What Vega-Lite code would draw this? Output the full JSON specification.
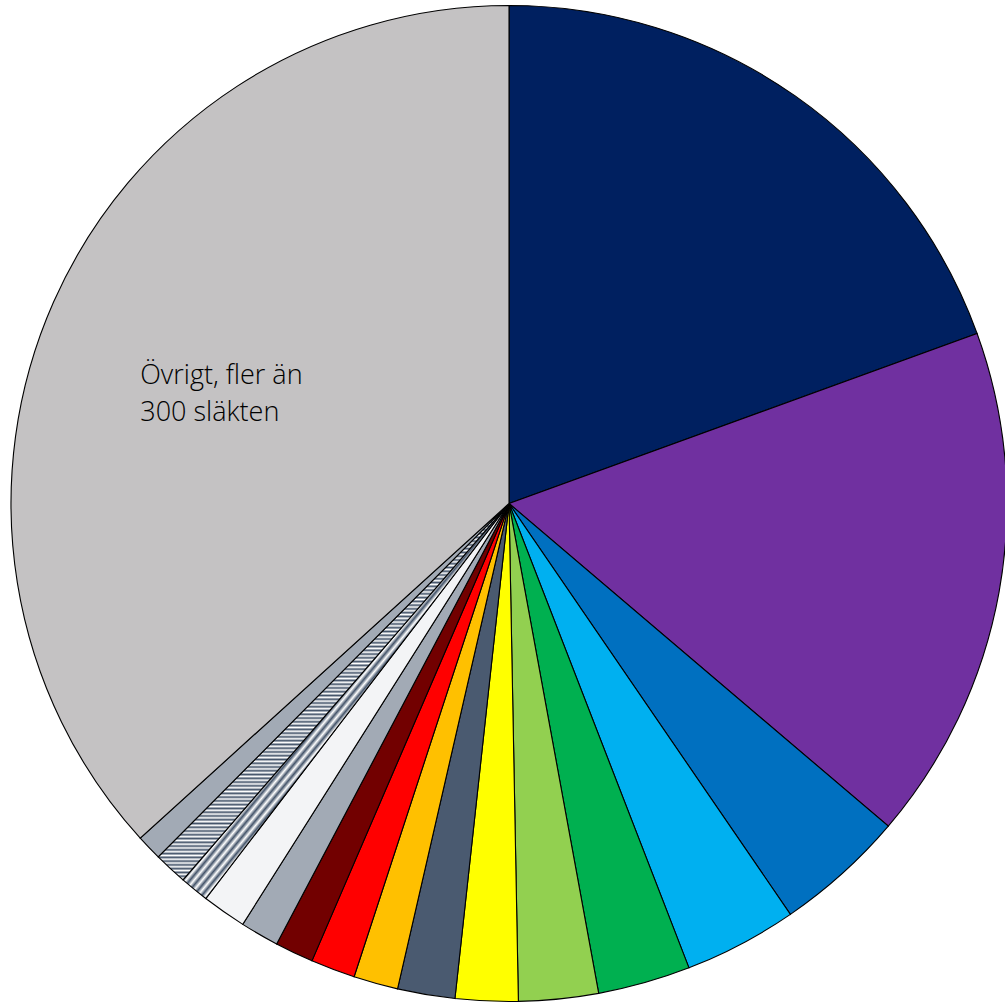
{
"$schema": "https://vega.github.io/schema/vega-lite/v6.json",
"width": 1005,
"height": 1003,
"autosize": {"type": "fit", "contains": "padding"},
"padding": {"left": 13, "top": 4, "right": 0, "bottom": 0},
"background": "#ffffff",
"view": {"stroke": null},
"data": {"values": [
{"k": 1, "name": "S1", "value": 19.44, "label": ""},
{"k": 2, "name": "S2", "value": 16.75, "label": ""},
{"k": 3, "name": "S3", "value": 4.22, "label": ""},
{"k": 4, "name": "S4", "value": 3.67, "label": ""},
{"k": 5, "name": "S5", "value": 3.0, "label": ""},
{"k": 6, "name": "S6", "value": 2.58, "label": ""},
{"k": 7, "name": "S7", "value": 2.03, "label": ""},
{"k": 8, "name": "S8", "value": 1.86, "label": ""},
{"k": 9, "name": "S9", "value": 1.44, "label": ""},
{"k": 10, "name": "S10", "value": 1.44, "label": ""},
{"k": 11, "name": "S11", "value": 1.25, "label": ""},
{"k": 12, "name": "S12", "value": 1.25, "label": ""},
{"k": 13, "name": "S13", "value": 1.44, "label": ""},
{"k": 14, "name": "S14", "value": 0.94, "label": ""},
{"k": 15, "name": "S15", "value": 1.08, "label": ""},
{"k": 16, "name": "S16", "value": 0.83, "label": ""},
{"k": 17, "name": "Övrigt", "value": 36.7, "label": "Övrigt, fler än\n300 släkten"}
]},
"encoding": {
"theta": {"field": "value", "type": "quantitative", "stack": true},
"order": {"field": "k", "type": "quantitative", "sort": "ascending"}
},
"layer": [
{
"mark": {"type": "arc", "radius": 498, "stroke": "#000000", "strokeWidth": 1.1},
"encoding": {
"fill": {
"field": "name", "type": "nominal", "legend": null,
"scale": {
"domain": ["S1","S2","S3","S4","S5","S6","S7","S8","S9","S10","S11","S12","S13","S14","S15","S16","Övrigt"],
"range": ["#002060","#7030A0","#0070C0","#00B0F0","#00B050","#92D050","#FFFF00","#4A5A70","#FFC000","#FF0000","#720000","#A2AAB5","#F3F4F6","#A2AAB5","#B8BEC8","#A2AAB5","#C4C2C3"]
},
"condition": [
{"test": "datum.k === 14", "value": {"gradient": "linear", "x1": 0, "y1": 0, "x2": 1, "y2": 1, "stops": [
{"offset":0,"color":"#44546a"},{"offset":0.00625,"color":"#fff"},{"offset":0.0125,"color":"#44546a"},{"offset":0.01875,"color":"#fff"},{"offset":0.025,"color":"#44546a"},{"offset":0.03125,"color":"#fff"},{"offset":0.0375,"color":"#44546a"},{"offset":0.04375,"color":"#fff"},{"offset":0.05,"color":"#44546a"},{"offset":0.05625,"color":"#fff"},{"offset":0.0625,"color":"#44546a"},{"offset":0.06875,"color":"#fff"},{"offset":0.075,"color":"#44546a"},{"offset":0.08125,"color":"#fff"},{"offset":0.0875,"color":"#44546a"},{"offset":0.09375,"color":"#fff"},
{"offset":0.1,"color":"#44546a"},{"offset":0.10625,"color":"#fff"},{"offset":0.1125,"color":"#44546a"},{"offset":0.11875,"color":"#fff"},{"offset":0.125,"color":"#44546a"},{"offset":0.13125,"color":"#fff"},{"offset":0.1375,"color":"#44546a"},{"offset":0.14375,"color":"#fff"},{"offset":0.15,"color":"#44546a"},{"offset":0.15625,"color":"#fff"},{"offset":0.1625,"color":"#44546a"},{"offset":0.16875,"color":"#fff"},{"offset":0.175,"color":"#44546a"},{"offset":0.18125,"color":"#fff"},{"offset":0.1875,"color":"#44546a"},{"offset":0.19375,"color":"#fff"},
{"offset":0.2,"color":"#44546a"},{"offset":0.20625,"color":"#fff"},{"offset":0.2125,"color":"#44546a"},{"offset":0.21875,"color":"#fff"},{"offset":0.225,"color":"#44546a"},{"offset":0.23125,"color":"#fff"},{"offset":0.2375,"color":"#44546a"},{"offset":0.24375,"color":"#fff"},{"offset":0.25,"color":"#44546a"},{"offset":0.25625,"color":"#fff"},{"offset":0.2625,"color":"#44546a"},{"offset":0.26875,"color":"#fff"},{"offset":0.275,"color":"#44546a"},{"offset":0.28125,"color":"#fff"},{"offset":0.2875,"color":"#44546a"},{"offset":0.29375,"color":"#fff"},
{"offset":0.3,"color":"#44546a"},{"offset":0.30625,"color":"#fff"},{"offset":0.3125,"color":"#44546a"},{"offset":0.31875,"color":"#fff"},{"offset":0.325,"color":"#44546a"},{"offset":0.33125,"color":"#fff"},{"offset":0.3375,"color":"#44546a"},{"offset":0.34375,"color":"#fff"},{"offset":0.35,"color":"#44546a"},{"offset":0.35625,"color":"#fff"},{"offset":0.3625,"color":"#44546a"},{"offset":0.36875,"color":"#fff"},{"offset":0.375,"color":"#44546a"},{"offset":0.38125,"color":"#fff"},{"offset":0.3875,"color":"#44546a"},{"offset":0.39375,"color":"#fff"},
{"offset":0.4,"color":"#44546a"},{"offset":0.40625,"color":"#fff"},{"offset":0.4125,"color":"#44546a"},{"offset":0.41875,"color":"#fff"},{"offset":0.425,"color":"#44546a"},{"offset":0.43125,"color":"#fff"},{"offset":0.4375,"color":"#44546a"},{"offset":0.44375,"color":"#fff"},{"offset":0.45,"color":"#44546a"},{"offset":0.45625,"color":"#fff"},{"offset":0.4625,"color":"#44546a"},{"offset":0.46875,"color":"#fff"},{"offset":0.475,"color":"#44546a"},{"offset":0.48125,"color":"#fff"},{"offset":0.4875,"color":"#44546a"},{"offset":0.49375,"color":"#fff"},
{"offset":0.5,"color":"#44546a"},{"offset":0.50625,"color":"#fff"},{"offset":0.5125,"color":"#44546a"},{"offset":0.51875,"color":"#fff"},{"offset":0.525,"color":"#44546a"},{"offset":0.53125,"color":"#fff"},{"offset":0.5375,"color":"#44546a"},{"offset":0.54375,"color":"#fff"},{"offset":0.55,"color":"#44546a"},{"offset":0.55625,"color":"#fff"},{"offset":0.5625,"color":"#44546a"},{"offset":0.56875,"color":"#fff"},{"offset":0.575,"color":"#44546a"},{"offset":0.58125,"color":"#fff"},{"offset":0.5875,"color":"#44546a"},{"offset":0.59375,"color":"#fff"},
{"offset":0.6,"color":"#44546a"},{"offset":0.60625,"color":"#fff"},{"offset":0.6125,"color":"#44546a"},{"offset":0.61875,"color":"#fff"},{"offset":0.625,"color":"#44546a"},{"offset":0.63125,"color":"#fff"},{"offset":0.6375,"color":"#44546a"},{"offset":0.64375,"color":"#fff"},{"offset":0.65,"color":"#44546a"},{"offset":0.65625,"color":"#fff"},{"offset":0.6625,"color":"#44546a"},{"offset":0.66875,"color":"#fff"},{"offset":0.675,"color":"#44546a"},{"offset":0.68125,"color":"#fff"},{"offset":0.6875,"color":"#44546a"},{"offset":0.69375,"color":"#fff"},
{"offset":0.7,"color":"#44546a"},{"offset":0.70625,"color":"#fff"},{"offset":0.7125,"color":"#44546a"},{"offset":0.71875,"color":"#fff"},{"offset":0.725,"color":"#44546a"},{"offset":0.73125,"color":"#fff"},{"offset":0.7375,"color":"#44546a"},{"offset":0.74375,"color":"#fff"},{"offset":0.75,"color":"#44546a"},{"offset":0.75625,"color":"#fff"},{"offset":0.7625,"color":"#44546a"},{"offset":0.76875,"color":"#fff"},{"offset":0.775,"color":"#44546a"},{"offset":0.78125,"color":"#fff"},{"offset":0.7875,"color":"#44546a"},{"offset":0.79375,"color":"#fff"},
{"offset":0.8,"color":"#44546a"},{"offset":0.80625,"color":"#fff"},{"offset":0.8125,"color":"#44546a"},{"offset":0.81875,"color":"#fff"},{"offset":0.825,"color":"#44546a"},{"offset":0.83125,"color":"#fff"},{"offset":0.8375,"color":"#44546a"},{"offset":0.84375,"color":"#fff"},{"offset":0.85,"color":"#44546a"},{"offset":0.85625,"color":"#fff"},{"offset":0.8625,"color":"#44546a"},{"offset":0.86875,"color":"#fff"},{"offset":0.875,"color":"#44546a"},{"offset":0.88125,"color":"#fff"},{"offset":0.8875,"color":"#44546a"},{"offset":0.89375,"color":"#fff"},
{"offset":0.9,"color":"#44546a"},{"offset":0.90625,"color":"#fff"},{"offset":0.9125,"color":"#44546a"},{"offset":0.91875,"color":"#fff"},{"offset":0.925,"color":"#44546a"},{"offset":0.93125,"color":"#fff"},{"offset":0.9375,"color":"#44546a"},{"offset":0.94375,"color":"#fff"},{"offset":0.95,"color":"#44546a"},{"offset":0.95625,"color":"#fff"},{"offset":0.9625,"color":"#44546a"},{"offset":0.96875,"color":"#fff"},{"offset":0.975,"color":"#44546a"},{"offset":0.98125,"color":"#fff"},{"offset":0.9875,"color":"#44546a"},{"offset":0.99375,"color":"#fff"},
{"offset":1,"color":"#44546a"}
]}},
{"test": "datum.k === 15", "value": {"gradient": "linear", "x1": 0, "y1": 0, "x2": 0, "y2": 1, "stops": [
{"offset":0,"color":"#44546a"},{"offset":0.005,"color":"#fff"},{"offset":0.01,"color":"#44546a"},{"offset":0.015,"color":"#fff"},{"offset":0.02,"color":"#44546a"},{"offset":0.025,"color":"#fff"},{"offset":0.03,"color":"#44546a"},{"offset":0.035,"color":"#fff"},{"offset":0.04,"color":"#44546a"},{"offset":0.045,"color":"#fff"},{"offset":0.05,"color":"#44546a"},{"offset":0.055,"color":"#fff"},{"offset":0.06,"color":"#44546a"},{"offset":0.065,"color":"#fff"},{"offset":0.07,"color":"#44546a"},{"offset":0.075,"color":"#fff"},{"offset":0.08,"color":"#44546a"},{"offset":0.085,"color":"#fff"},{"offset":0.09,"color":"#44546a"},{"offset":0.095,"color":"#fff"},
{"offset":0.1,"color":"#44546a"},{"offset":0.105,"color":"#fff"},{"offset":0.11,"color":"#44546a"},{"offset":0.115,"color":"#fff"},{"offset":0.12,"color":"#44546a"},{"offset":0.125,"color":"#fff"},{"offset":0.13,"color":"#44546a"},{"offset":0.135,"color":"#fff"},{"offset":0.14,"color":"#44546a"},{"offset":0.145,"color":"#fff"},{"offset":0.15,"color":"#44546a"},{"offset":0.155,"color":"#fff"},{"offset":0.16,"color":"#44546a"},{"offset":0.165,"color":"#fff"},{"offset":0.17,"color":"#44546a"},{"offset":0.175,"color":"#fff"},{"offset":0.18,"color":"#44546a"},{"offset":0.185,"color":"#fff"},{"offset":0.19,"color":"#44546a"},{"offset":0.195,"color":"#fff"},
{"offset":0.2,"color":"#44546a"},{"offset":0.205,"color":"#fff"},{"offset":0.21,"color":"#44546a"},{"offset":0.215,"color":"#fff"},{"offset":0.22,"color":"#44546a"},{"offset":0.225,"color":"#fff"},{"offset":0.23,"color":"#44546a"},{"offset":0.235,"color":"#fff"},{"offset":0.24,"color":"#44546a"},{"offset":0.245,"color":"#fff"},{"offset":0.25,"color":"#44546a"},{"offset":0.255,"color":"#fff"},{"offset":0.26,"color":"#44546a"},{"offset":0.265,"color":"#fff"},{"offset":0.27,"color":"#44546a"},{"offset":0.275,"color":"#fff"},{"offset":0.28,"color":"#44546a"},{"offset":0.285,"color":"#fff"},{"offset":0.29,"color":"#44546a"},{"offset":0.295,"color":"#fff"},
{"offset":0.3,"color":"#44546a"},{"offset":0.305,"color":"#fff"},{"offset":0.31,"color":"#44546a"},{"offset":0.315,"color":"#fff"},{"offset":0.32,"color":"#44546a"},{"offset":0.325,"color":"#fff"},{"offset":0.33,"color":"#44546a"},{"offset":0.335,"color":"#fff"},{"offset":0.34,"color":"#44546a"},{"offset":0.345,"color":"#fff"},{"offset":0.35,"color":"#44546a"},{"offset":0.355,"color":"#fff"},{"offset":0.36,"color":"#44546a"},{"offset":0.365,"color":"#fff"},{"offset":0.37,"color":"#44546a"},{"offset":0.375,"color":"#fff"},{"offset":0.38,"color":"#44546a"},{"offset":0.385,"color":"#fff"},{"offset":0.39,"color":"#44546a"},{"offset":0.395,"color":"#fff"},
{"offset":0.4,"color":"#44546a"},{"offset":0.405,"color":"#fff"},{"offset":0.41,"color":"#44546a"},{"offset":0.415,"color":"#fff"},{"offset":0.42,"color":"#44546a"},{"offset":0.425,"color":"#fff"},{"offset":0.43,"color":"#44546a"},{"offset":0.435,"color":"#fff"},{"offset":0.44,"color":"#44546a"},{"offset":0.445,"color":"#fff"},{"offset":0.45,"color":"#44546a"},{"offset":0.455,"color":"#fff"},{"offset":0.46,"color":"#44546a"},{"offset":0.465,"color":"#fff"},{"offset":0.47,"color":"#44546a"},{"offset":0.475,"color":"#fff"},{"offset":0.48,"color":"#44546a"},{"offset":0.485,"color":"#fff"},{"offset":0.49,"color":"#44546a"},{"offset":0.495,"color":"#fff"},
{"offset":0.5,"color":"#44546a"},{"offset":0.505,"color":"#fff"},{"offset":0.51,"color":"#44546a"},{"offset":0.515,"color":"#fff"},{"offset":0.52,"color":"#44546a"},{"offset":0.525,"color":"#fff"},{"offset":0.53,"color":"#44546a"},{"offset":0.535,"color":"#fff"},{"offset":0.54,"color":"#44546a"},{"offset":0.545,"color":"#fff"},{"offset":0.55,"color":"#44546a"},{"offset":0.555,"color":"#fff"},{"offset":0.56,"color":"#44546a"},{"offset":0.565,"color":"#fff"},{"offset":0.57,"color":"#44546a"},{"offset":0.575,"color":"#fff"},{"offset":0.58,"color":"#44546a"},{"offset":0.585,"color":"#fff"},{"offset":0.59,"color":"#44546a"},{"offset":0.595,"color":"#fff"},
{"offset":0.6,"color":"#44546a"},{"offset":0.605,"color":"#fff"},{"offset":0.61,"color":"#44546a"},{"offset":0.615,"color":"#fff"},{"offset":0.62,"color":"#44546a"},{"offset":0.625,"color":"#fff"},{"offset":0.63,"color":"#44546a"},{"offset":0.635,"color":"#fff"},{"offset":0.64,"color":"#44546a"},{"offset":0.645,"color":"#fff"},{"offset":0.65,"color":"#44546a"},{"offset":0.655,"color":"#fff"},{"offset":0.66,"color":"#44546a"},{"offset":0.665,"color":"#fff"},{"offset":0.67,"color":"#44546a"},{"offset":0.675,"color":"#fff"},{"offset":0.68,"color":"#44546a"},{"offset":0.685,"color":"#fff"},{"offset":0.69,"color":"#44546a"},{"offset":0.695,"color":"#fff"},
{"offset":0.7,"color":"#44546a"},{"offset":0.705,"color":"#fff"},{"offset":0.71,"color":"#44546a"},{"offset":0.715,"color":"#fff"},{"offset":0.72,"color":"#44546a"},{"offset":0.725,"color":"#fff"},{"offset":0.73,"color":"#44546a"},{"offset":0.735,"color":"#fff"},{"offset":0.74,"color":"#44546a"},{"offset":0.745,"color":"#fff"},{"offset":0.75,"color":"#44546a"},{"offset":0.755,"color":"#fff"},{"offset":0.76,"color":"#44546a"},{"offset":0.765,"color":"#fff"},{"offset":0.77,"color":"#44546a"},{"offset":0.775,"color":"#fff"},{"offset":0.78,"color":"#44546a"},{"offset":0.785,"color":"#fff"},{"offset":0.79,"color":"#44546a"},{"offset":0.795,"color":"#fff"},
{"offset":0.8,"color":"#44546a"},{"offset":0.805,"color":"#fff"},{"offset":0.81,"color":"#44546a"},{"offset":0.815,"color":"#fff"},{"offset":0.82,"color":"#44546a"},{"offset":0.825,"color":"#fff"},{"offset":0.83,"color":"#44546a"},{"offset":0.835,"color":"#fff"},{"offset":0.84,"color":"#44546a"},{"offset":0.845,"color":"#fff"},{"offset":0.85,"color":"#44546a"},{"offset":0.855,"color":"#fff"},{"offset":0.86,"color":"#44546a"},{"offset":0.865,"color":"#fff"},{"offset":0.87,"color":"#44546a"},{"offset":0.875,"color":"#fff"},{"offset":0.88,"color":"#44546a"},{"offset":0.885,"color":"#fff"},{"offset":0.89,"color":"#44546a"},{"offset":0.895,"color":"#fff"},
{"offset":0.9,"color":"#44546a"},{"offset":0.905,"color":"#fff"},{"offset":0.91,"color":"#44546a"},{"offset":0.915,"color":"#fff"},{"offset":0.92,"color":"#44546a"},{"offset":0.925,"color":"#fff"},{"offset":0.93,"color":"#44546a"},{"offset":0.935,"color":"#fff"},{"offset":0.94,"color":"#44546a"},{"offset":0.945,"color":"#fff"},{"offset":0.95,"color":"#44546a"},{"offset":0.955,"color":"#fff"},{"offset":0.96,"color":"#44546a"},{"offset":0.965,"color":"#fff"},{"offset":0.97,"color":"#44546a"},{"offset":0.975,"color":"#fff"},{"offset":0.98,"color":"#44546a"},{"offset":0.985,"color":"#fff"},{"offset":0.99,"color":"#44546a"},{"offset":0.995,"color":"#fff"},
{"offset":1,"color":"#44546a"}
]}}
]
}
}
},
{
"mark": {"type": "text", "radius": 283, "align": "left", "baseline": "middle", "dx": -110, "dy": -13, "fontSize": 27, "font": "Open Sans", "fontWeight": 300, "lineBreak": "\n", "lineHeight": 37, "color": "#000000"},
"encoding": {"text": {"field": "label", "type": "nominal"}}
}
]
}
